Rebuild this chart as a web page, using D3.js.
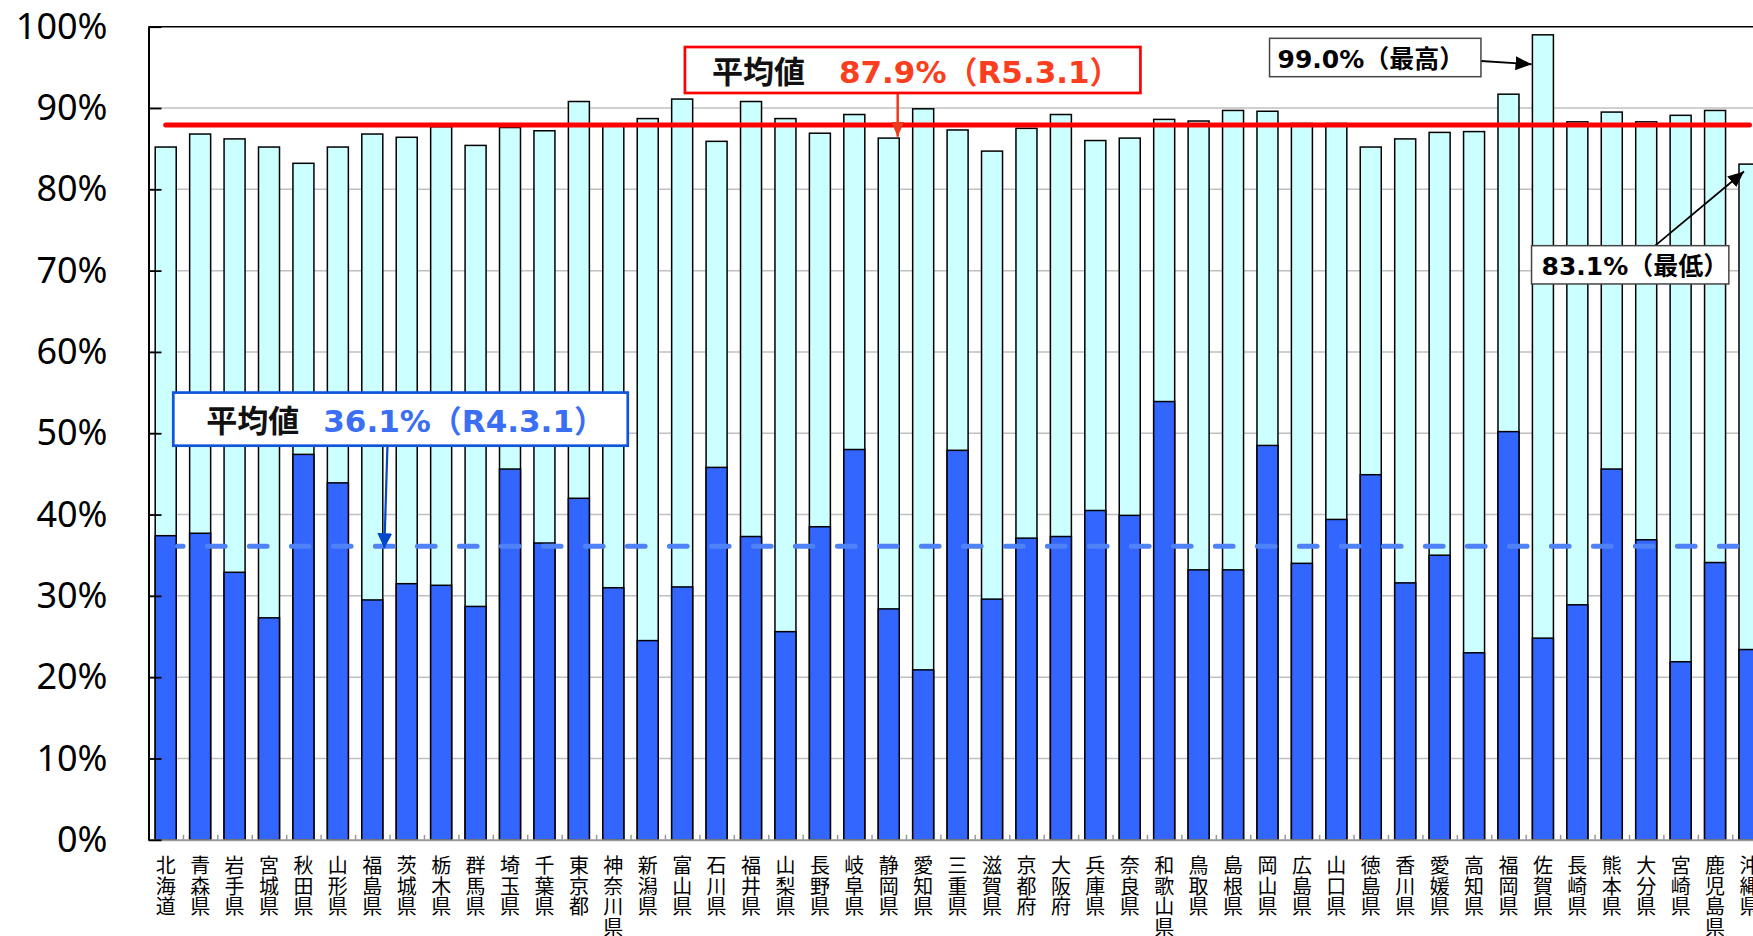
<!DOCTYPE html>
<html><head><meta charset="utf-8">
<script src="https://cdn.jsdelivr.net/npm/d3@7"></script>
<style>html,body{margin:0;padding:0;background:#fff;overflow:hidden}</style>
</head><body>
<svg id="chart" width="1753" height="936"></svg>
<script>
// ---------- data ----------
const categories = ["北海道","青森県","岩手県","宮城県","秋田県","山形県","福島県","茨城県","栃木県","群馬県","埼玉県","千葉県","東京都","神奈川県","新潟県","富山県","石川県","福井県","山梨県","長野県","岐阜県","静岡県","愛知県","三重県","滋賀県","京都府","大阪府","兵庫県","奈良県","和歌山県","鳥取県","島根県","岡山県","広島県","山口県","徳島県","香川県","愛媛県","高知県","福岡県","佐賀県","長崎県","熊本県","大分県","宮崎県","鹿児島県","沖縄県"];
// R5.3.1 (light bars)
const valuesR5 = [85.2,86.8,86.2,85.2,83.2,85.2,86.8,86.4,87.7,85.4,87.6,87.2,90.8,87.8,88.7,91.1,85.9,90.8,88.7,86.9,89.2,86.3,89.9,87.3,84.7,87.5,89.2,86.0,86.3,88.6,88.4,89.7,89.6,88.1,88.1,85.2,86.2,87.0,87.1,91.7,99.0,88.3,89.5,88.3,89.1,89.7,83.1];
// R4.3.1 (dark bars)
const valuesR4 = [37.4,37.7,32.9,27.3,47.4,43.9,29.5,31.5,31.3,28.7,45.6,36.5,42.0,31.0,24.5,31.1,45.8,37.3,25.6,38.5,48.0,28.4,20.9,47.9,29.6,37.1,37.3,40.5,39.9,53.9,33.2,33.2,48.5,34.0,39.4,44.9,31.6,35.0,23.0,50.2,24.8,28.9,45.6,36.9,21.9,34.1,23.4];
const yTickValues = [0,10,20,30,40,50,60,70,80,90,100];
const averageR5 = 87.9;
const averageR4 = 36.1;
const averageR5Texts = ["平均値", "87.9%（R5.3.1）"];
const averageR4Texts = ["平均値", "36.1%（R4.3.1）"];
const maxText = "99.0%（最高）";
const minText = "83.1%（最低）";

// ---------- layout ----------
const W = 1753, H = 936;
const plotLeft = 148.5, plotTop = 26.7, plotBottom = 839.8, bandStep = 34.43;
const svg = d3.select("#chart");
svg.append("rect").attr("width", W).attr("height", H).attr("fill", "#fff");

const x = d3.scaleBand().domain(categories)
  .range([plotLeft, plotLeft + categories.length * bandStep])
  .paddingInner(0.39).paddingOuter(0.195);
const xu = d3.scaleLinear().domain([0, categories.length]).range(x.range());
const y = d3.scaleLinear().domain([0, 100]).range([plotBottom, plotTop]);
const bw = x.bandwidth();

// gridlines
svg.append("g").selectAll("line")
  .data(yTickValues.filter(v => v > 0 && v < 100)).join("line")
  .attr("x1", plotLeft).attr("x2", W).attr("y1", d => y(d)).attr("y2", d => y(d))
  .attr("stroke", "#C0C0C0").attr("stroke-width", 1.5);
// top frame
svg.append("line").attr("x1", plotLeft).attr("x2", W).attr("y1", y(100)).attr("y2", y(100))
  .attr("stroke", "#000").attr("stroke-width", 1.5);

// bars
svg.append("g").selectAll("rect").data(categories).join("rect")
  .attr("x", d => x(d)).attr("width", bw)
  .attr("y", (d, i) => y(valuesR5[i])).attr("height", (d, i) => y(0) - y(valuesR5[i]))
  .attr("fill", "#CCFFFF").attr("stroke", "#000").attr("stroke-width", 1.5);
svg.append("g").selectAll("rect").data(categories).join("rect")
  .attr("x", d => x(d)).attr("width", bw)
  .attr("y", (d, i) => y(valuesR4[i])).attr("height", (d, i) => y(0) - y(valuesR4[i]))
  .attr("fill", "#3366FF").attr("stroke", "#000").attr("stroke-width", 1.5);

// x axis
const gx = svg.append("g").attr("transform", `translate(0,${y(0)})`)
  .call(d3.axisBottom(xu).tickValues(d3.range(1, categories.length)).tickSize(-5).tickSizeOuter(0).tickFormat(""));
gx.select(".domain").attr("stroke", "#999").attr("stroke-width", 2);
gx.selectAll(".tick line").attr("stroke", "#999").attr("stroke-width", 1.5);

// category labels (vertical stacked characters)
svg.append("g").selectAll("text").data(categories).join("text")
  .attr("text-anchor", "middle")
  .attr("font-family", "'Noto Sans CJK JP'").attr("font-size", 20).attr("fill", "#000")
  .each(function (d) {
    const cx = x(d) + bw / 2;
    d3.select(this).selectAll("tspan").data(Array.from(d)).join("tspan")
      .attr("x", cx).attr("y", (c, i) => y(0) + 33 + i * 20.8).text(c => c);
  });

// y axis
const gy = svg.append("g").attr("transform", `translate(${plotLeft},0)`)
  .call(d3.axisLeft(y).tickValues(yTickValues).tickFormat(d => d + "%").tickSize(-13).tickSizeOuter(0).tickPadding(41));
gy.select(".domain").attr("stroke", "#000").attr("stroke-width", 2);
gy.selectAll(".tick line").attr("stroke", "#000").attr("stroke-width", 1.8);
gy.selectAll(".tick text").attr("font-family", "'Noto Sans', sans-serif").attr("font-size", 36).attr("fill", "#000");

// average lines
svg.append("line")
  .attr("x1", x(categories[0]) + bw / 2).attr("x2", x(categories[categories.length - 1]) + bw / 2)
  .attr("y1", y(averageR5)).attr("y2", y(averageR5))
  .attr("stroke", "#FF0000").attr("stroke-width", 5).attr("stroke-linecap", "round");
svg.append("line")
  .attr("x1", xu(0.842)).attr("x2", xu(categories.length))
  .attr("y1", y(averageR4)).attr("y2", y(averageR4))
  .attr("stroke", "#4F81F7").attr("stroke-width", 5).attr("stroke-linecap", "round")
  .attr("stroke-dasharray", "17.7 24.3").attr("stroke-dashoffset", 12.1);

// annotations (positions in scale units: category index / percent)
const defs = svg.append("defs");
function marker(id, color, len, wid) {
  defs.append("marker").attr("id", id).attr("markerUnits", "userSpaceOnUse")
    .attr("markerWidth", len).attr("markerHeight", wid).attr("refX", len).attr("refY", wid / 2)
    .attr("orient", "auto")
    .append("path").attr("d", `M0,0L${len},${wid / 2}L0,${wid}Z`).attr("fill", color);
}
marker("mRed", "#EE3A1F", 15, 13);
marker("mBlue", "#0047CC", 15, 15);
marker("mBlack", "#000", 16, 14);

const notes = [
  { box: [15.58, 28.81, 97.5, 91.85], stroke: "#FF0000", sw: 2.7, size: 31,
    parts: [{ t: averageR5Texts[0], dx: 27, c: "#111" }, { t: averageR5Texts[1], dx: 154, c: "#FA3E1E" }],
    arrow: { from: [21.76, 91.85], to: [21.76, 86.47], c: "#EE3A1F", w: 2.5, m: "mRed" } },
  { box: [0.72, 13.92, 55.0, 48.47], stroke: "#0F55D8", sw: 2.7, size: 31,
    parts: [{ t: averageR4Texts[0], dx: 33, c: "#111" }, { t: averageR4Texts[1], dx: 150, c: "#3A6EF5" }],
    arrow: { from: [6.94, 48.47], to: [6.85, 35.85], c: "#0047CC", w: 2.2, m: "mBlue" } },
  { box: [32.56, 38.70, 98.57, 93.85], stroke: "#444", sw: 1.5, size: 25,
    parts: [{ t: maxText, dx: 8, c: "#000" }],
    arrow: { from: [38.70, 95.78], to: [40.17, 95.38], c: "#000", w: 1.8, m: "mBlack" } },
  { box: [40.17, 45.9, 73.07, 68.36], stroke: "#444", sw: 1.5, size: 25,
    parts: [{ t: minText, dx: 10, c: "#000" }],
    arrow: { from: [43.76, 73.07], to: [46.34, 82.19], c: "#000", w: 1.8, m: "mBlack" } }
];
const ga = svg.append("g");
notes.forEach(n => {
  ga.append("line")
    .attr("x1", xu(n.arrow.from[0])).attr("y1", y(n.arrow.from[1]))
    .attr("x2", xu(n.arrow.to[0])).attr("y2", y(n.arrow.to[1]))
    .attr("stroke", n.arrow.c).attr("stroke-width", n.arrow.w).attr("marker-end", `url(#${n.arrow.m})`);
});
notes.forEach(n => {
  const x0 = xu(n.box[0]), x1 = xu(n.box[1]), y0 = y(n.box[2]), y1 = y(n.box[3]);
  ga.append("rect").attr("x", x0).attr("y", y0).attr("width", x1 - x0).attr("height", y1 - y0)
    .attr("fill", "#fff").attr("stroke", n.stroke).attr("stroke-width", n.sw);
  const base = (y0 + y1) / 2 + 0.41 * n.size;
  n.parts.forEach(p => {
    ga.append("text").attr("x", x0 + p.dx).attr("y", base)
      .attr("font-family", "'DejaVu Sans','Noto Sans CJK JP'").attr("font-weight", "bold")
      .attr("font-size", n.size).attr("fill", p.c).text(p.t);
  });
});
</script>
</body></html>
